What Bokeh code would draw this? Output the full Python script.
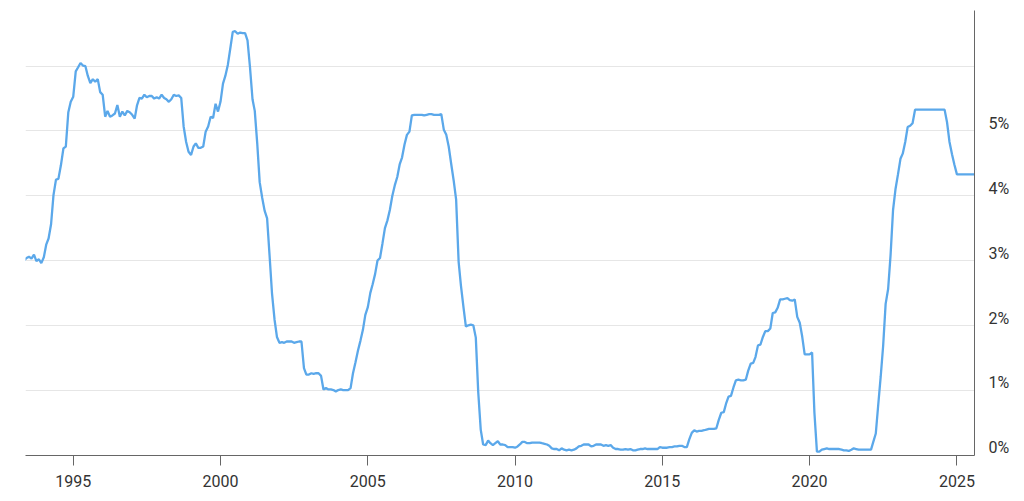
import pandas as pd
from datetime import datetime
from bokeh.plotting import figure
from bokeh.models import Range1d, FixedTicker, CustomJSTickFormatter, DatetimeTickFormatter
from bokeh.embed import file_html
from bokeh.resources import INLINE

# Monthly rate (%), Jan 1993 .. Aug 2025
r1993 = [3.02, 3.03, 3.07, 2.96, 3.00, 3.04, 3.06, 3.03, 3.09, 2.99, 3.02, 2.96]
r1994 = [3.05, 3.25, 3.34, 3.56, 4.01, 4.25, 4.26, 4.47, 4.73, 4.76, 5.29, 5.45]
r1995 = [5.53, 5.92, 5.98, 6.05, 6.01, 6.00, 5.85, 5.74, 5.80, 5.76, 5.80, 5.60]
r1996 = [5.56, 5.22, 5.31, 5.22, 5.24, 5.27, 5.40, 5.22, 5.30, 5.24, 5.31, 5.29]
r1997 = [5.25, 5.19, 5.39, 5.51, 5.50, 5.56, 5.52, 5.54, 5.54, 5.50, 5.52, 5.50]
r1998 = [5.56, 5.51, 5.49, 5.45, 5.49, 5.56, 5.54, 5.55, 5.51, 5.07, 4.83, 4.68]
r1999 = [4.63, 4.76, 4.81, 4.74, 4.74, 4.76, 4.99, 5.07, 5.22, 5.20, 5.42, 5.30]
r2000 = [5.45, 5.73, 5.85, 6.02, 6.27, 6.53, 6.54, 6.50, 6.52, 6.51, 6.51, 6.40]
r2001 = [5.98, 5.49, 5.31, 4.80, 4.21, 3.97, 3.77, 3.65, 3.07, 2.49, 2.09, 1.82]
r2002 = [1.73, 1.74, 1.73, 1.75, 1.75, 1.75, 1.73, 1.74, 1.75, 1.75, 1.34, 1.24]
r2003 = [1.24, 1.26, 1.25, 1.26, 1.26, 1.22, 1.01, 1.03, 1.01, 1.01, 1.00, 0.98]
r2004 = [1.00, 1.01, 1.00, 1.00, 1.00, 1.03, 1.26, 1.43, 1.61, 1.76, 1.93, 2.16]
r2005 = [2.28, 2.50, 2.63, 2.79, 3.00, 3.04, 3.26, 3.50, 3.62, 3.78, 4.00, 4.16]
r2006 = [4.29, 4.49, 4.59, 4.79, 4.94, 4.99, 5.24, 5.25, 5.25, 5.25, 5.25, 5.24]
r2007 = [5.25, 5.26, 5.26, 5.25, 5.25, 5.25, 5.26, 5.02, 4.94, 4.76, 4.49, 4.24]
r2008 = [3.94, 2.98, 2.61, 2.28, 1.98, 2.00, 2.01, 2.00, 1.81, 0.97, 0.39, 0.16]
r2009 = [0.15, 0.22, 0.18, 0.15, 0.18, 0.21, 0.16, 0.16, 0.15, 0.12, 0.12, 0.12]
r2010 = [0.11, 0.13, 0.16, 0.20, 0.20, 0.18, 0.18, 0.19, 0.19, 0.19, 0.19, 0.18]
r2011 = [0.17, 0.16, 0.14, 0.10, 0.09, 0.09, 0.07, 0.10, 0.08, 0.07, 0.08, 0.07]
r2012 = [0.08, 0.10, 0.13, 0.14, 0.16, 0.16, 0.16, 0.13, 0.14, 0.16, 0.16, 0.16]
r2013 = [0.14, 0.15, 0.14, 0.15, 0.11, 0.09, 0.09, 0.08, 0.08, 0.09, 0.08, 0.09]
r2014 = [0.07, 0.07, 0.08, 0.09, 0.09, 0.10, 0.09, 0.09, 0.09, 0.09, 0.09, 0.12]
r2015 = [0.11, 0.11, 0.11, 0.12, 0.12, 0.13, 0.13, 0.14, 0.14, 0.12, 0.12, 0.24]
r2016 = [0.34, 0.38, 0.36, 0.37, 0.37, 0.38, 0.39, 0.40, 0.40, 0.40, 0.41, 0.54]
r2017 = [0.65, 0.66, 0.79, 0.90, 0.91, 1.04, 1.15, 1.16, 1.15, 1.15, 1.16, 1.30]
r2018 = [1.41, 1.42, 1.51, 1.69, 1.70, 1.82, 1.91, 1.91, 1.95, 2.19, 2.20, 2.27]
r2019 = [2.40, 2.40, 2.41, 2.42, 2.39, 2.38, 2.40, 2.13, 2.04, 1.83, 1.55, 1.55]
r2020 = [1.55, 1.58, 0.65, 0.05, 0.05, 0.08, 0.09, 0.10, 0.09, 0.09, 0.09, 0.09]
r2021 = [0.09, 0.08, 0.07, 0.07, 0.06, 0.08, 0.10, 0.09, 0.08, 0.08, 0.08, 0.08]
r2022 = [0.08, 0.08, 0.20, 0.33, 0.77, 1.21, 1.68, 2.33, 2.56, 3.08, 3.78, 4.10]
r2023 = [4.33, 4.57, 4.65, 4.83, 5.06, 5.08, 5.12, 5.33, 5.33, 5.33, 5.33, 5.33]
r2024 = [5.33, 5.33, 5.33, 5.33, 5.33, 5.33, 5.33, 5.33, 5.13, 4.83, 4.64, 4.48]
r2025 = [4.33, 4.33, 4.33, 4.33, 4.33, 4.33, 4.33, 4.33]

rates = (r1993 + r1994 + r1995 + r1996 + r1997 + r1998 + r1999 + r2000 + r2001 +
         r2002 + r2003 + r2004 + r2005 + r2006 + r2007 + r2008 + r2009 + r2010 +
         r2011 + r2012 + r2013 + r2014 + r2015 + r2016 + r2017 + r2018 + r2019 +
         r2020 + r2021 + r2022 + r2023 + r2024 + r2025)
dates = pd.date_range("1993-01-01", periods=len(rates), freq="MS")

x_tick_years = [1995, 2000, 2005, 2010, 2015, 2020, 2025]
y_tick_values = [0, 1, 2, 3, 4, 5]
y_grid_values = [1, 2, 3, 4, 5, 6]

p = figure(width=1016, height=493, x_axis_type="datetime", y_axis_location="right",
           output_backend="svg", toolbar_location=None,
           min_border_left=25, min_border_right=42, min_border_top=10, min_border_bottom=38,
           x_range=Range1d(datetime(1993, 5, 19), datetime(2025, 8, 7)),
           y_range=Range1d(-0.01, 6.86))
p.outline_line_color = None
p.background_fill_color = "white"
p.border_fill_color = "white"

p.line(dates, rates, line_color="#5BA8EA", line_width=2.3)

# x axis
p.xgrid.visible = False
p.xaxis.ticker = FixedTicker(ticks=[pd.Timestamp(f"{y}-01-01").value // 10**6 for y in x_tick_years])
p.xaxis.formatter = DatetimeTickFormatter(years="%Y", months="%Y", days="%Y")
p.xaxis.major_tick_out = 10
p.xaxis.major_tick_in = 0
p.xaxis.minor_tick_line_color = None
p.xaxis.major_tick_line_color = "#666666"
p.xaxis.axis_line_color = "#666666"
p.xaxis.major_label_standoff = 9

# y axis (right)
p.yaxis.ticker = FixedTicker(ticks=[v + 0.11 for v in y_tick_values])
p.yaxis.formatter = CustomJSTickFormatter(code="return Math.round(tick) + '%';")
p.yaxis.major_tick_line_color = None
p.yaxis.minor_tick_line_color = None
p.yaxis.axis_line_color = "#666666"
p.yaxis.major_label_standoff = 8

p.ygrid.ticker = FixedTicker(ticks=y_grid_values)
p.ygrid.grid_line_color = "#e6e6e6"
p.ygrid.grid_line_width = 1

for ax in (p.xaxis, p.yaxis):
    ax.major_label_text_font = "Roboto"
    ax.major_label_text_font_size = "16px"
    ax.major_label_text_color = "#333333"

open("out.html", "w").write(file_html(p, INLINE))
